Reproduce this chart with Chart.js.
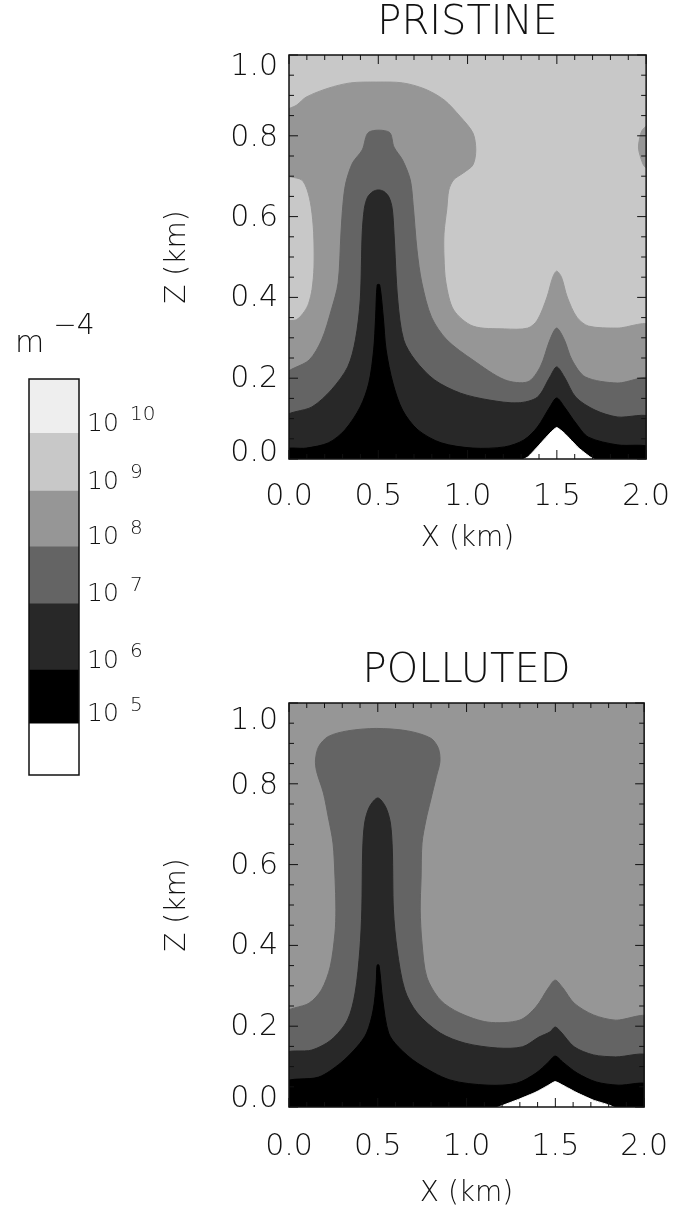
<!DOCTYPE html>
<html>
<head>
<meta charset="utf-8">
<script src="https://cdn.jsdelivr.net/npm/chart.js@4.4.1/dist/chart.umd.min.js"></script>
<style>
  body { margin: 0; background: #fff; }
  #page { position: relative; width: 691px; height: 1216px; overflow: hidden; background: #fff; }
  canvas { position: absolute; }
  .unit { position: absolute; left: 15px; top: 327px; font: 200 30px 'DejaVu Sans', sans-serif; line-height: 30px; color: #111; white-space: nowrap; }
  .unit span { position: relative; top: -18px; margin-left: 9px; font-size: 28px; }
</style>
</head>
<body>
<div id="page">
  <canvas id="pristine" width="540" height="559" style="left:150px;top:0px"></canvas>
  <canvas id="polluted" width="540" height="563" style="left:150px;top:648px"></canvas>
  <canvas id="colorbar" width="159" height="450" style="left:0px;top:350px"></canvas>
  <div class="unit">m<span>−4</span></div>
</div>
<script>
const FONT = "'DejaVu Sans', sans-serif";
const INK = '#111';

// colour bar: band edges (fraction of bar height), shades and labels
const cbEdges = [0, 0.129, 0.265, 0.432, 0.576, 0.717, 0.863, 1];
const cbColors = ['#ffffff', '#000000', '#282828', '#646464', '#969696', '#c8c8c8', '#eeeeee'];
const cbExponents = ['5', '6', '7', '8', '9', '10'];

// axis labels
const zTickLabels = ['0.0', '0.2', '0.4', '0.6', '0.8', '1.0'];
const pristineZLabelAt = [0.015, 0.197, 0.397, 0.597, 0.795, 0.97];
const pollutedZLabelAt = [0.02, 0.197, 0.397, 0.597, 0.795, 0.955];

// contour regions, [x km, z km]; each one is painted over the previous one
const plotBox = [[-0.03, -0.04], [-0.03, 1.04], [2.03, 1.04], [2.03, -0.04]];

const pristineLt9 = [[-0.03, -0.04], [-0.03, 0.337], [0.043, 0.345], [0.086, 0.365], [0.11, 0.385], [0.129, 0.42],
  [0.140, 0.475], [0.138, 0.56], [0.124, 0.624], [0.102, 0.666], [0.07, 0.691], [-0.03, 0.708], [-0.03, 0.856],
  [0.043, 0.876], [0.097, 0.896], [0.221, 0.918], [0.345, 0.931], [0.491, 0.933], [0.636, 0.931], [0.760, 0.916],
  [0.868, 0.889], [0.960, 0.847], [1.030, 0.807], [1.046, 0.765], [1.030, 0.728], [0.976, 0.708], [0.922, 0.691],
  [0.895, 0.666], [0.884, 0.62], [0.868, 0.559], [0.868, 0.5], [0.879, 0.436], [0.922, 0.369], [1.030, 0.329],
  [1.208, 0.322], [1.337, 0.324], [1.391, 0.344], [1.445, 0.401], [1.477, 0.450], [1.499, 0.465], [1.526, 0.450],
  [1.558, 0.401], [1.612, 0.351], [1.677, 0.329], [1.838, 0.324], [2.03, 0.327], [2.03, -0.04]];
const pristineLt9Edge = [[2.03, 0.834], [1.978, 0.814], [1.962, 0.790], [1.957, 0.770], [1.968, 0.748], [1.989, 0.725], [2.03, 0.712]];
const pristineLt8 = [[-0.03, -0.04], [-0.03, 0.203], [0.113, 0.245], [0.183, 0.295], [0.237, 0.369], [0.275, 0.436],
  [0.291, 0.559], [0.302, 0.630], [0.318, 0.683], [0.356, 0.733], [0.410, 0.765], [0.447, 0.809], [0.561, 0.809],
  [0.588, 0.772], [0.636, 0.740], [0.679, 0.691], [0.695, 0.630], [0.717, 0.517], [0.744, 0.436], [0.798, 0.351],
  [0.884, 0.295], [1.030, 0.245], [1.208, 0.196], [1.337, 0.191], [1.407, 0.228], [1.461, 0.295], [1.499, 0.324],
  [1.542, 0.295], [1.585, 0.245], [1.660, 0.203], [1.838, 0.188], [2.03, 0.196], [2.03, -0.04]];
const pristineLt7 = [[-0.03, -0.04], [-0.03, 0.101], [0.129, 0.129], [0.237, 0.171], [0.329, 0.228], [0.372, 0.295],
  [0.399, 0.394], [0.410, 0.559], [0.422, 0.62], [0.440, 0.648], [0.470, 0.662], [0.501, 0.666], [0.532, 0.662],
  [0.560, 0.648], [0.578, 0.62], [0.588, 0.559], [0.609, 0.394], [0.642, 0.295], [0.706, 0.245], [0.814, 0.196],
  [0.960, 0.163], [1.121, 0.146], [1.283, 0.139], [1.391, 0.153], [1.461, 0.203], [1.499, 0.228], [1.542, 0.203],
  [1.606, 0.153], [1.714, 0.121], [1.838, 0.104], [2.03, 0.101], [2.03, -0.04]];
const pristineLt6 = [[-0.03, -0.04], [-0.03, 0.022], [0.097, 0.027], [0.221, 0.040], [0.313, 0.072], [0.399, 0.129],
  [0.447, 0.188], [0.474, 0.270], [0.485, 0.351], [0.494, 0.431], [0.508, 0.431], [0.528, 0.351], [0.544, 0.270],
  [0.582, 0.188], [0.636, 0.121], [0.722, 0.072], [0.852, 0.040], [1.030, 0.027], [1.208, 0.030], [1.315, 0.047],
  [1.391, 0.079], [1.461, 0.129], [1.499, 0.151], [1.542, 0.129], [1.606, 0.089], [1.677, 0.054], [1.838, 0.035],
  [2.03, 0.027], [2.03, -0.04]];
const pristineLt5 = [[1.27, -0.01], [1.337, 0.005], [1.391, 0.030], [1.461, 0.064], [1.499, 0.078], [1.542, 0.064],
  [1.623, 0.027], [1.687, 0.005], [1.75, -0.01]];

const pollutedLt8 = [[-0.03, -0.04], [-0.03, 0.228], [0.113, 0.257], [0.183, 0.290], [0.232, 0.347], [0.259, 0.431],
  [0.264, 0.488], [0.259, 0.569], [0.248, 0.653], [0.221, 0.718], [0.194, 0.777], [0.156, 0.830], [0.149, 0.859],
  [0.167, 0.892], [0.221, 0.917], [0.329, 0.931], [0.491, 0.937], [0.668, 0.931], [0.798, 0.913], [0.841, 0.888],
  [0.850, 0.855], [0.830, 0.818], [0.798, 0.760], [0.771, 0.710], [0.749, 0.653], [0.744, 0.569], [0.739, 0.488],
  [0.749, 0.406], [0.776, 0.322], [0.852, 0.265], [0.960, 0.233], [1.121, 0.210], [1.299, 0.215], [1.391, 0.248],
  [1.461, 0.295], [1.499, 0.314], [1.542, 0.295], [1.606, 0.257], [1.714, 0.228], [1.838, 0.215], [2.03, 0.220], [2.03, -0.04]];
const pollutedLt7 = [[-0.03, -0.04], [-0.03, 0.129], [0.129, 0.141], [0.237, 0.166], [0.329, 0.215], [0.372, 0.282],
  [0.399, 0.389], [0.410, 0.488], [0.415, 0.636], [0.426, 0.703], [0.453, 0.743], [0.5, 0.765], [0.544, 0.743],
  [0.571, 0.703], [0.582, 0.636], [0.588, 0.488], [0.609, 0.389], [0.652, 0.290], [0.722, 0.233], [0.852, 0.183],
  [0.992, 0.158], [1.175, 0.146], [1.315, 0.149], [1.407, 0.173], [1.470, 0.186], [1.499, 0.198], [1.531, 0.186],
  [1.606, 0.149], [1.714, 0.129], [1.838, 0.124], [2.03, 0.124], [2.03, -0.04]];
const pollutedLt6 = [[-0.03, -0.04], [-0.03, 0.059], [0.167, 0.074], [0.291, 0.109], [0.383, 0.149], [0.437, 0.183],
  [0.474, 0.240], [0.491, 0.307], [0.496, 0.351], [0.507, 0.351], [0.528, 0.265], [0.561, 0.183], [0.615, 0.149],
  [0.722, 0.109], [0.906, 0.067], [1.121, 0.054], [1.283, 0.059], [1.391, 0.084], [1.461, 0.111], [1.499, 0.126],
  [1.542, 0.111], [1.623, 0.084], [1.730, 0.062], [1.854, 0.054], [2.03, 0.054], [2.03, -0.04]];
const pollutedLt5 = [[1.12, -0.01], [1.209, 0.005], [1.299, 0.020], [1.391, 0.037], [1.461, 0.054], [1.499, 0.063],
  [1.542, 0.054], [1.623, 0.035], [1.714, 0.017], [1.801, 0.005], [1.88, -0.01]];

// box with inward ticks on all four sides, IDL style
const framePlugin = {
    id: 'frame',
    afterDatasetsDraw(chart, args, opts) {
        const { ctx, chartArea: a, scales } = chart;
        ctx.save();
        ctx.strokeStyle = INK;
        ctx.lineWidth = 1;
        const tick = (scale, minor, major, draw) => {
            const n = Math.round((scale.max - scale.min) / minor);
            for (let i = 0; i <= n; i++) {
                const v = scale.min + i * minor;
                const isMajor = Math.abs(v / major - Math.round(v / major)) < 1e-6;
                draw(scale.getPixelForValue(v), isMajor ? 9 : 5);
            }
        };
        ctx.beginPath();
        if (opts.xMinor) {
            tick(scales.x, opts.xMinor, opts.xMajor, (p, len) => {
                ctx.moveTo(p, a.bottom); ctx.lineTo(p, a.bottom - len);
                ctx.moveTo(p, a.top); ctx.lineTo(p, a.top + len);
            });
        }
        if (opts.yMinor) {
            tick(scales.y, opts.yMinor, opts.yMajor, (p, len) => {
                ctx.moveTo(a.left, p); ctx.lineTo(a.left + len, p);
                ctx.moveTo(a.right, p); ctx.lineTo(a.right - len, p);
            });
        }
        ctx.stroke();
        ctx.lineWidth = 1.5;
        ctx.strokeRect(a.left, a.top, a.right - a.left, a.bottom - a.top);
        ctx.restore();
    }
};

// raised powers next to the "10" tick labels of the colour bar
const exponentPlugin = {
    id: 'exponents',
    afterDraw(chart) {
        const { ctx, scales: { y } } = chart;
        ctx.save();
        ctx.font = `200 20px ${FONT}`;
        ctx.fillStyle = INK;
        ctx.textAlign = 'left';
        ctx.textBaseline = 'middle';
        cbExponents.forEach((e, i) => {
            ctx.fillText(e, y.left + 51, y.getPixelForValue(cbEdges[i + 1]) - 18);
        });
        ctx.restore();
    }
};

function shapeSet(points, color, tension) {
    return {
        data: points.map(([x, z]) => ({ x, y: z })),
        showLine: true,
        fill: 'shape',
        backgroundColor: color,
        borderColor: color,
        borderWidth: 1,
        pointRadius: 0,
        pointHoverRadius: 0,
        tension: tension
    };
}

function renderContourPlot(canvasId, title, layers, cfg) {
    // layers come back-to-front; Chart.js draws higher `order` first
    const datasets = layers.map((l, i) => Object.assign(shapeSet(l.points, l.color, l.tension ?? 0.3), { order: layers.length - i }));
    const tickFont = { family: FONT, size: 30, weight: '200' };
    const titleFont = { family: FONT, size: 28, weight: '200' };
    return new Chart(document.getElementById(canvasId), {
        type: 'scatter',
        data: { datasets },
        options: {
            responsive: false,
            animation: false,
            events: [],
            layout: { padding: { top: 0, right: 30, bottom: 0, left: 0 } },
            plugins: {
                legend: { display: false },
                tooltip: { enabled: false },
                title: {
                    display: true, text: title, fullSize: false, color: INK,
                    font: { family: FONT, size: 40, weight: '200' },
                    padding: { top: 0, bottom: 7 }
                },
                frame: { xMinor: 0.1, xMajor: 0.5, yMinor: 0.05, yMajor: 0.2 }
            },
            scales: {
                x: {
                    type: 'linear', min: 0, max: 2,
                    afterFit: s => { s.height = cfg.xAxisHeight; },
                    grid: { display: false, drawTicks: false },
                    border: { display: false },
                    ticks: {
                        stepSize: 0.5, padding: cfg.tickPad, maxRotation: 0, autoSkip: false, color: INK, font: tickFont,
                        callback: v => Number(v).toFixed(1)
                    },
                    title: { display: true, text: 'X (km)', color: INK, font: titleFont, padding: { top: 0, bottom: cfg.titlePad } }
                },
                y: {
                    type: 'linear', min: 0, max: 1,
                    afterBuildTicks: s => { s.ticks = cfg.zLabelAt.map(v => ({ value: v })); },
                    afterFit: s => { s.width = 139; },
                    grid: { display: false, drawTicks: false },
                    border: { display: false },
                    ticks: { padding: 11, autoSkip: false, color: INK, font: tickFont, callback: (v, i) => zTickLabels[i] },
                    title: { display: true, text: 'Z (km)', color: INK, font: titleFont, padding: { top: 11, bottom: 0 } }
                }
            }
        },
        plugins: [framePlugin]
    });
}

renderContourPlot('pristine', 'PRISTINE', [
    { points: plotBox, color: cbColors[5], tension: 0 },
    { points: pristineLt9, color: cbColors[4] },
    { points: pristineLt9Edge, color: cbColors[4] },
    { points: pristineLt8, color: cbColors[3] },
    { points: pristineLt7, color: cbColors[2] },
    { points: pristineLt6, color: cbColors[1] },
    { points: pristineLt5, color: cbColors[0], tension: 0.15 }
], { zLabelAt: pristineZLabelAt, xAxisHeight: 100, tickPad: 20, titlePad: 3 });

renderContourPlot('polluted', 'POLLUTED', [
    { points: plotBox, color: cbColors[4], tension: 0 },
    { points: pollutedLt8, color: cbColors[3] },
    { points: pollutedLt7, color: cbColors[2] },
    { points: pollutedLt6, color: cbColors[1] },
    { points: pollutedLt5, color: cbColors[0], tension: 0.15 }
], { zLabelAt: pollutedZLabelAt, xAxisHeight: 104, tickPad: 22, titlePad: 0 });

new Chart(document.getElementById('colorbar'), {
    type: 'bar',
    data: {
        labels: [''],
        datasets: cbColors.map((c, i) => ({
            data: [[cbEdges[i], cbEdges[i + 1]]],
            backgroundColor: c,
            borderWidth: 0,
            barPercentage: 1,
            categoryPercentage: 1,
            grouped: false
        }))
    },
    options: {
        responsive: false,
        animation: false,
        events: [],
        layout: { padding: { left: 29, top: 29, bottom: 25, right: 0 } },
        plugins: { legend: { display: false }, tooltip: { enabled: false }, frame: {} },
        scales: {
            x: { display: false },
            y: {
                position: 'right', min: 0, max: 1,
                afterBuildTicks: s => { s.ticks = cbEdges.slice(1, -1).map(v => ({ value: v })); },
                afterFit: s => { s.width = 80; },
                grid: { display: false, drawTicks: false },
                border: { display: false },
                ticks: {
                    padding: 8, labelOffset: -9, autoSkip: false, color: INK,
                    font: { family: FONT, size: 25, weight: '200' },
                    callback: () => '10'
                }
            }
        }
    },
    plugins: [framePlugin, exponentPlugin]
});
</script>
</body>
</html>
